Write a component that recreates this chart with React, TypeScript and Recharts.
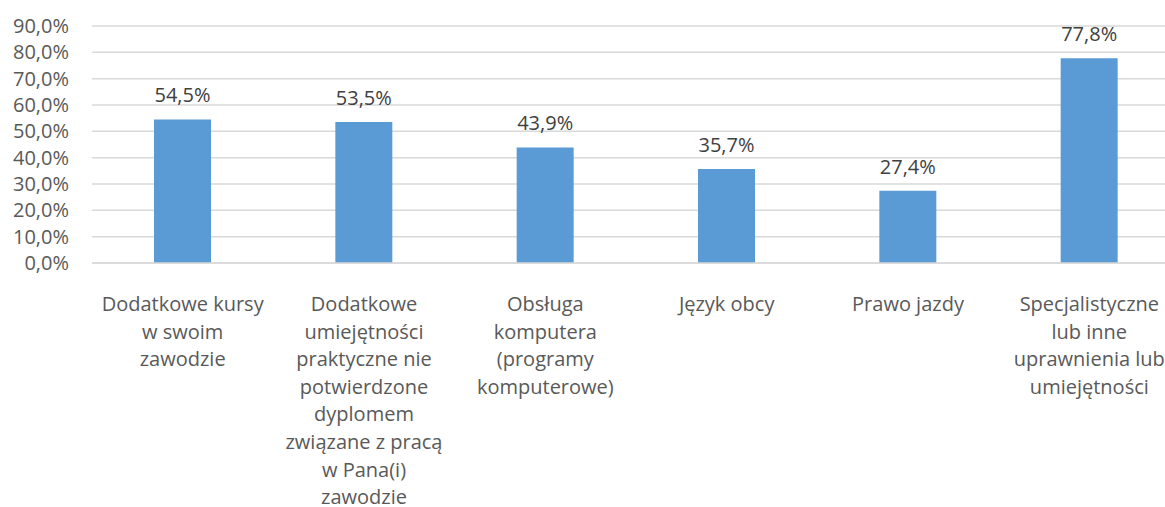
import React from 'react';
import { BarChart, Bar, XAxis, YAxis, CartesianGrid, LabelList } from 'recharts';

const categories = [
  'Dodatkowe kursy w swoim zawodzie',
  'Dodatkowe umiejętności praktyczne nie potwierdzone dyplomem związane z pracą w Pana(i) zawodzie',
  'Obsługa komputera (programy komputerowe)',
  'Język obcy',
  'Prawo jazdy',
  'Specjalistyczne lub inne uprawnienia lub umiejętności',
];

const values = [54.5, 53.5, 43.9, 35.7, 27.4, 77.8];

const categoryLabelLines: string[][] = [
  ['Dodatkowe kursy', 'w swoim', 'zawodzie'],
  ['Dodatkowe', 'umiejętności', 'praktyczne nie', 'potwierdzone', 'dyplomem', 'związane z pracą', 'w Pana(i)', 'zawodzie'],
  ['Obsługa', 'komputera', '(programy', 'komputerowe)'],
  ['Język obcy'],
  ['Prawo jazdy'],
  ['Specjalistyczne', 'lub inne', 'uprawnienia lub', 'umiejętności'],
];

const yTicks = [0, 10, 20, 30, 40, 50, 60, 70, 80, 90];

const data = categories.map((name, i) => ({ name, value: values[i] }));

const FONT = '"Open Sans", sans-serif';
const FS = 20;
const fmt = (v: number) => v.toFixed(1).replace('.', ',') + '%';

const CategoryTick = (props: any) => {
  const { x, y, payload } = props;
  const idx = categories.indexOf(payload.value);
  const lines = idx >= 0 ? categoryLabelLines[idx] : [String(payload.value)];
  return (
    <text x={x} y={y} textAnchor="middle" fill="#595959" fontSize={FS} fontFamily={FONT}>
      {lines.map((l, i) => (
        <tspan key={i} x={x} y={y + 40 + i * 27.6}>{l}</tspan>
      ))}
    </text>
  );
};

export default function App() {
  return (
    <div style={{ position: 'fixed', left: 0, top: 0, width: 1165, height: 507, overflow: 'hidden', background: '#fff' }}>
      <BarChart
        width={1200}
        height={507}
        data={data}
        margin={{ top: 26, right: 20, left: 0, bottom: 0 }}
        barCategoryGap={0}
      >
        <CartesianGrid vertical={false} stroke="#D9D9D9" strokeWidth={1.5} />
        <YAxis
          width={92}
          domain={[0, 90]}
          ticks={yTicks}
          interval={0}
          axisLine={false}
          tickLine={false}
          tickSize={0}
          tickMargin={23}
          tickFormatter={(v: number) => fmt(v)}
          tick={{ fill: '#595959', fontSize: FS, fontFamily: FONT }}
        />
        <XAxis
          dataKey="name"
          height={244}
          interval={0}
          axisLine={{ stroke: '#D9D9D9', strokeWidth: 1.5 }}
          tickLine={false}
          tick={<CategoryTick />}
        />
        <Bar dataKey="value" fill="#5B9BD5" barSize={57} isAnimationActive={false}>
          <LabelList
            dataKey="value"
            position="top"
            offset={17}
            formatter={(v: any) => fmt(Number(v))}
            fill="#404040"
            fontSize={FS}
            fontFamily={FONT}
          />
        </Bar>
      </BarChart>
    </div>
  );
}
